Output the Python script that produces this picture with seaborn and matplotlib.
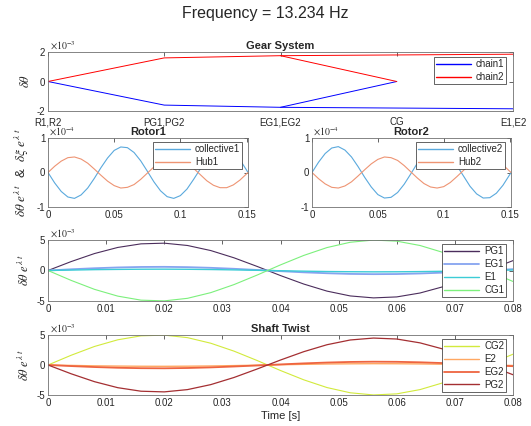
import matplotlib
matplotlib.use("Agg")
import matplotlib.pyplot as plt
import seaborn as sns
from matplotlib.ticker import FuncFormatter

# Gear System: main path R -> PG -> EG -> CG, branch EG -> E
gear_labels = ["R1,R2", "PG1,PG2", "EG1,EG2", "CG", "E1,E2"]
gear_main_x = [1, 2, 3, 4]
gear_branch_x = [3, 5]
chain1_main = [0.0, -1.60, -1.75, 0.0]     # x1e-3
chain1_branch = [-1.75, -1.85]
chain2_main = [0.0, 1.60, 1.75, 0.0]
chain2_branch = [1.75, 1.85]

# Rotor panels, time [s]
t_rotor = [0.000, 0.005, 0.010, 0.015, 0.020, 0.025, 0.030, 0.035, 0.040, 0.045,
           0.050, 0.055, 0.060, 0.065, 0.070, 0.075, 0.080, 0.085, 0.090, 0.095,
           0.100, 0.105, 0.110, 0.115, 0.120, 0.125, 0.130, 0.135, 0.140, 0.145,
           0.150, 0.1511]
collective1 = [0, -0.30, -0.55, -0.71, -0.75, -0.65, -0.45, -0.17, 0.14, 0.42,
               0.64, 0.74, 0.72, 0.58, 0.34, 0.04, -0.27, -0.53, -0.70, -0.75,
               -0.67, -0.48, -0.20, 0.10, 0.40, 0.62, 0.74, 0.73, 0.60, 0.37,
               0.07, 0]                                  # x1e-4
hub1 = [0, 0.18, 0.33, 0.43, 0.45, 0.39, 0.27, 0.10, -0.08, -0.25,
        -0.38, -0.45, -0.43, -0.35, -0.20, -0.02, 0.16, 0.32, 0.42, 0.45,
        0.41, 0.29, 0.12, -0.06, -0.24, -0.37, -0.44, -0.44, -0.36, -0.22,
        -0.04, 0]
collective2 = [0, 0.30, 0.55, 0.71, 0.75, 0.65, 0.45, 0.17, -0.14, -0.42,
               -0.64, -0.74, -0.72, -0.58, -0.34, -0.04, 0.27, 0.53, 0.70, 0.75,
               0.67, 0.48, 0.20, -0.10, -0.40, -0.62, -0.74, -0.73, -0.60, -0.37,
               -0.07, 0]
hub2 = [0, -0.18, -0.33, -0.43, -0.45, -0.39, -0.27, -0.10, 0.08, 0.25,
        0.38, 0.45, 0.43, 0.35, 0.20, 0.02, -0.16, -0.32, -0.42, -0.45,
        -0.41, -0.29, -0.12, 0.06, 0.24, 0.37, 0.44, 0.44, 0.36, 0.22,
        0.04, 0]

# Shaft panels, time [s]
t_shaft = [0.000, 0.004, 0.008, 0.012, 0.016, 0.020, 0.024, 0.028, 0.032, 0.036,
           0.040, 0.044, 0.048, 0.052, 0.056, 0.060, 0.064, 0.068, 0.072, 0.076, 0.080]
PG1 = [0, 1.47, 2.78, 3.78, 4.37, 4.48, 4.10, 3.27, 2.08, 0.66,
       -0.83, -2.22, -3.38, -4.17, -4.49, -4.33, -3.69, -2.65, -1.31, 0.16, 1.62]  # x1e-3
EG1 = [0, 0.20, 0.37, 0.50, 0.58, 0.60, 0.55, 0.44, 0.28, 0.09,
       -0.11, -0.30, -0.45, -0.56, -0.60, -0.58, -0.49, -0.35, -0.17, 0.02, 0.22]
E1 = [0, 0.07, 0.14, 0.18, 0.21, 0.22, 0.20, 0.16, 0.10, 0.03,
      -0.04, -0.11, -0.17, -0.20, -0.22, -0.21, -0.18, -0.13, -0.06, 0.01, 0.08]
CG1 = [0, -1.63, -3.09, -4.20, -4.86, -4.98, -4.56, -3.63, -2.31, -0.74,
       0.92, 2.47, 3.76, 4.63, 4.99, 4.81, 4.10, 2.95, 1.46, -0.18, -1.80]
CG2 = [0, 1.63, 3.09, 4.20, 4.86, 4.98, 4.56, 3.63, 2.31, 0.74,
       -0.92, -2.47, -3.76, -4.63, -4.99, -4.81, -4.10, -2.95, -1.46, 0.18, 1.80]
E2 = [0, -0.07, -0.14, -0.18, -0.21, -0.22, -0.20, -0.16, -0.10, -0.03,
      0.04, 0.11, 0.17, 0.20, 0.22, 0.21, 0.18, 0.13, 0.06, -0.01, -0.08]
EG2 = [0, -0.18, -0.34, -0.46, -0.53, -0.55, -0.50, -0.40, -0.25, -0.08,
       0.10, 0.27, 0.41, 0.51, 0.55, 0.53, 0.45, 0.32, 0.16, -0.02, -0.20]
PG2 = [0, -1.47, -2.78, -3.78, -4.37, -4.48, -4.10, -3.27, -2.08, -0.66,
       0.83, 2.22, 3.38, 4.17, 4.49, 4.33, 3.69, 2.65, 1.31, -0.16, -1.62]

sns.set_theme(style="white")
plt.rcParams["font.family"] = ["Liberation Sans", "DejaVu Sans"]
plt.rcParams["mathtext.fontset"] = "stix"
plt.rcParams["axes.unicode_minus"] = False

fig = plt.figure(figsize=(5.31, 4.26), dpi=100)
W, H = 531.0, 426.0


def make_ax(x0, x1, y0, y1):
    return fig.add_axes([x0 / W, 1 - y1 / H, (x1 - x0) / W, (y1 - y0) / H])


def style(ax, ylim, yticks, scale, expo):
    ax.set_ylim(ylim[0] * scale, ylim[1] * scale)
    ax.set_yticks([v * scale for v in yticks])
    ax.yaxis.set_major_formatter(FuncFormatter(lambda v, p: "%g" % round(v / scale, 6)))
    ax.text(0.005, 1.0, r"$\times10^{%d}$" % expo, transform=ax.transAxes,
            fontsize=7, color="#262626", ha="left", va="bottom")
    ax.tick_params(direction="in", top=True, right=True, length=3, width=0.5,
                   labelsize=7, colors="#262626", pad=2)
    for sp in ax.spines.values():
        sp.set_linewidth(0.6)
        sp.set_color("#707070")


def legend(ax, x, y):
    handles = [ln for ln in ax.get_lines() if not ln.get_label().startswith("_")]
    leg = ax.legend(handles=handles, labels=[ln.get_label() for ln in handles],
                    loc="upper right", bbox_to_anchor=(x, y), borderaxespad=0,
                    fontsize=7, frameon=True, fancybox=False, framealpha=1,
                    handlelength=3.6, labelspacing=0.3, borderpad=0.2,
                    handletextpad=0.5)
    leg.get_frame().set_edgecolor("#262626")
    leg.get_frame().set_linewidth(0.5)
    for ln in leg.get_lines():
        ln.set_linewidth(max(ln.get_linewidth(), 1.0))


gfmt = FuncFormatter(lambda v, p: "%g" % v)

# Gear System
ax1 = make_ax(48, 513, 52, 111)
sns.lineplot(x=gear_main_x, y=[v * 1e-3 for v in chain1_main], ax=ax1,
             color="#0000ff", lw=0.7, label="chain1")
sns.lineplot(x=gear_main_x, y=[v * 1e-3 for v in chain2_main], ax=ax1,
             color="#ff0000", lw=0.7, label="chain2")
sns.lineplot(x=gear_branch_x, y=[v * 1e-3 for v in chain1_branch], ax=ax1,
             color="#0000ff", lw=0.7)
sns.lineplot(x=gear_branch_x, y=[v * 1e-3 for v in chain2_branch], ax=ax1,
             color="#ff0000", lw=0.7)
ax1.set_xlim(1, 5)
ax1.set_xticks([1, 2, 3, 4, 5])
ax1.set_xticklabels(gear_labels)
style(ax1, (-2, 2), [-2, 0, 2], 1e-3, -3)
ax1.tick_params(axis="x", pad=4.5)
ax1.set_ylabel(r"$\delta\theta$", fontsize=9, labelpad=3)
ax1.set_title("Gear System", fontsize=8, fontweight="bold", pad=2)
legend(ax1, 0.985, 0.91)

# Rotors
rotors = [(48, 248, "Rotor1", collective1, hub1, "collective1", "Hub1"),
          (312, 511, "Rotor2", collective2, hub2, "collective2", "Hub2")]
for x0, x1, ttl, col, hub, lc, lh in rotors:
    ax = make_ax(x0, x1, 138, 207)
    sns.lineplot(x=t_rotor, y=[v * 1e-4 for v in col], ax=ax, color="#5aa9dd",
                 lw=0.8, label=lc)
    sns.lineplot(x=t_rotor, y=[v * 1e-4 for v in hub], ax=ax, color="#ee9473",
                 lw=0.8, label=lh)
    ax.set_xlim(0, 0.1511)
    ax.set_xticks([0, 0.05, 0.1, 0.15])
    ax.xaxis.set_major_formatter(gfmt)
    style(ax, (-1, 1), [-1, 0, 1], 1e-4, -4)
    ax.set_title(ttl, fontsize=8, fontweight="bold", pad=2)
    legend(ax, 0.97, 0.94)
    if ttl == "Rotor1":
        ax.set_ylabel(r"$\delta\theta\ e^{\lambda\ t}$  &  $\delta\xi\ e^{\lambda\ t}$",
                      fontsize=9.5, labelpad=4)

# Shaft panels
shaft = [(240, 301, [("PG1", PG1, "#4b2d5c", 0.8), ("EG1", EG1, "#86a4f0", 1.3),
                     ("E1", E1, "#3cccd6", 1.0), ("CG1", CG1, "#7cf07c", 0.8)], None),
         (335, 395, [("CG2", CG2, "#d2ea3c", 0.8), ("E2", E2, "#ffa862", 1.0),
                     ("EG2", EG2, "#ee6440", 1.3), ("PG2", PG2, "#a42f32", 0.9)], "Shaft Twist")]
for y0, y1, series, ttl in shaft:
    ax = make_ax(48, 513, y0, y1)
    for name, vals, c, lw in series:
        sns.lineplot(x=t_shaft, y=[v * 1e-3 for v in vals], ax=ax, color=c, lw=lw,
                     label=name)
    ax.set_xlim(0, 0.08)
    ax.set_xticks([0, 0.01, 0.02, 0.03, 0.04, 0.05, 0.06, 0.07, 0.08])
    ax.xaxis.set_major_formatter(gfmt)
    style(ax, (-5, 5), [-5, 0, 5], 1e-3, -3)
    ax.set_ylabel(r"$\delta\theta\ e^{\lambda\ t}$", fontsize=9, labelpad=3)
    legend(ax, 0.985, 0.93)
    if ttl:
        ax.set_title(ttl, fontsize=8, fontweight="bold", pad=2)
        ax.set_xlabel("Time [s]", fontsize=8, labelpad=2)

fig.suptitle("Frequency = 13.234 Hz", fontsize=11.5, y=0.985)
fig.savefig("out.png", dpi=100)
